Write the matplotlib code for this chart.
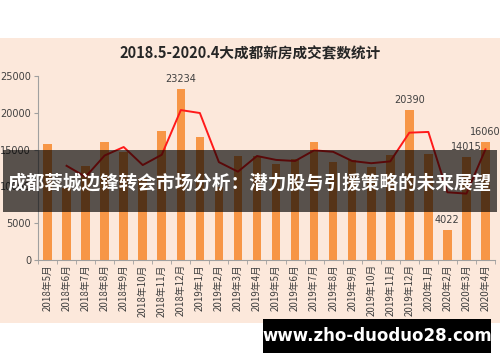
import numpy as np
import matplotlib
matplotlib.use('Agg')
import matplotlib.pyplot as plt
from matplotlib.patches import Rectangle

plt.rcParams['font.family'] = ['Noto Sans CJK SC', 'DejaVu Sans']

# months 2018.5 - 2020.4
months = ['2018年5月', '2018年6月', '2018年7月', '2018年8月', '2018年9月', '2018年10月',
          '2018年11月', '2018年12月', '2019年1月', '2019年2月', '2019年3月', '2019年4月',
          '2019年5月', '2019年6月', '2019年7月', '2019年8月', '2019年9月', '2019年10月',
          '2019年11月', '2019年12月', '2020年1月', '2020年2月', '2020年3月', '2020年4月']
# monthly sales (bars)
sales = [15800, 9800, 12760, 16000, 14700, 11100, 17500, 23234, 16700, 9900, 14100, 14160,
         13100, 13700, 16100, 13300, 13550, 12700, 14200, 20390, 14400, 4022, 14015, 16060]
# trend line (starts at 2018年6月)
trend = [np.nan, 12800, 11300, 14200, 15350, 12900, 14300, 20370, 19970, 13300, 12000, 14130,
         13600, 13450, 14900, 14700, 13450, 13150, 13400, 17300, 17400, 9200, 9020, 15040]
labeled = {'2018年12月': '23234', '2019年12月': '20390', '2020年2月': '4022',
           '2020年3月': '14015', '2020年4月': '16060'}

title = '2018.5-2020.4大成都新房成交套数统计'
banner = '成都蓉城边锋转会市场分析：潜力股与引援策略的未来展望'
site = 'www.zho-duoduo28.com'

pink = '#fce8db'
fig = plt.figure(figsize=(5, 3.62), dpi=100)
fig.patch.set_facecolor('white')
# pink chart area, behind the axes
fig.patches.append(Rectangle((0, 1 - 323 / 362), 1, (323 - 38) / 362,
                             transform=fig.transFigure, facecolor=pink, edgecolor='none', zorder=-1))

ax = fig.add_axes([0.076, 1 - 260 / 362, 0.914, (260 - 76) / 362])
ax.set_facecolor('none')
x = np.arange(len(months))
ax.bar(x, sales, width=0.45, color='#f79646', zorder=2)
ax.plot(x, trend, color='#ff1a1a', lw=1.4, zorder=3)

for i, m in enumerate(months):
    if m in labeled:
        ax.text(i, sales[i] + 700, labeled[m], ha='center', va='bottom',
                fontsize=7, color='#404040', family='DejaVu Sans')

ax.set_xlim(-0.5, len(months) - 0.5)
ax.set_ylim(0, 25000)
ax.set_yticks(np.arange(0, 25001, 5000))
ax.set_yticklabels([str(v) for v in range(0, 25001, 5000)], fontsize=7,
                   color='#404040', family='DejaVu Sans')
ax.set_xticks(x)
ax.set_xticklabels(months, rotation=90, fontsize=7, color='#404040')
ax.set_xticks(np.arange(-0.5, len(months)), minor=True)
ax.tick_params(axis='x', which='major', length=0, pad=3)
ax.tick_params(axis='x', which='minor', length=3, color='#a0a0a0')
ax.tick_params(axis='y', length=3, color='#a0a0a0', pad=2)
for s in ['top', 'right']:
    ax.spines[s].set_visible(False)
ax.spines['left'].set_color('#a0a0a0')
ax.spines['bottom'].set_color('#a0a0a0')

fig.text(0.5, 1 - 53 / 362, title, ha='center', va='center', fontsize=10.5,
         fontweight='bold', color='#262626')

# dark banner across the chart
fig.patches.append(Rectangle((3 / 500, 1 - 212 / 362), 494 / 500, 62 / 362,
                             transform=fig.transFigure, facecolor='black', alpha=0.65,
                             edgecolor='none', zorder=5))
fig.text(0.5, 1 - 183 / 362, banner, ha='center', va='center', fontsize=13.4,
         fontweight='bold', color='white', zorder=6)

# site box
fig.patches.append(Rectangle((263 / 500, 1 - 353 / 362), 228 / 500, 34 / 362,
                             transform=fig.transFigure, facecolor='black',
                             edgecolor='none', zorder=5))
fig.text(377 / 500, 1 - 336 / 362, site, ha='center', va='center', fontsize=12,
         fontweight='bold', color='white', family='DejaVu Sans', zorder=6)

fig.savefig('out.png', dpi=100, facecolor=fig.get_facecolor())
